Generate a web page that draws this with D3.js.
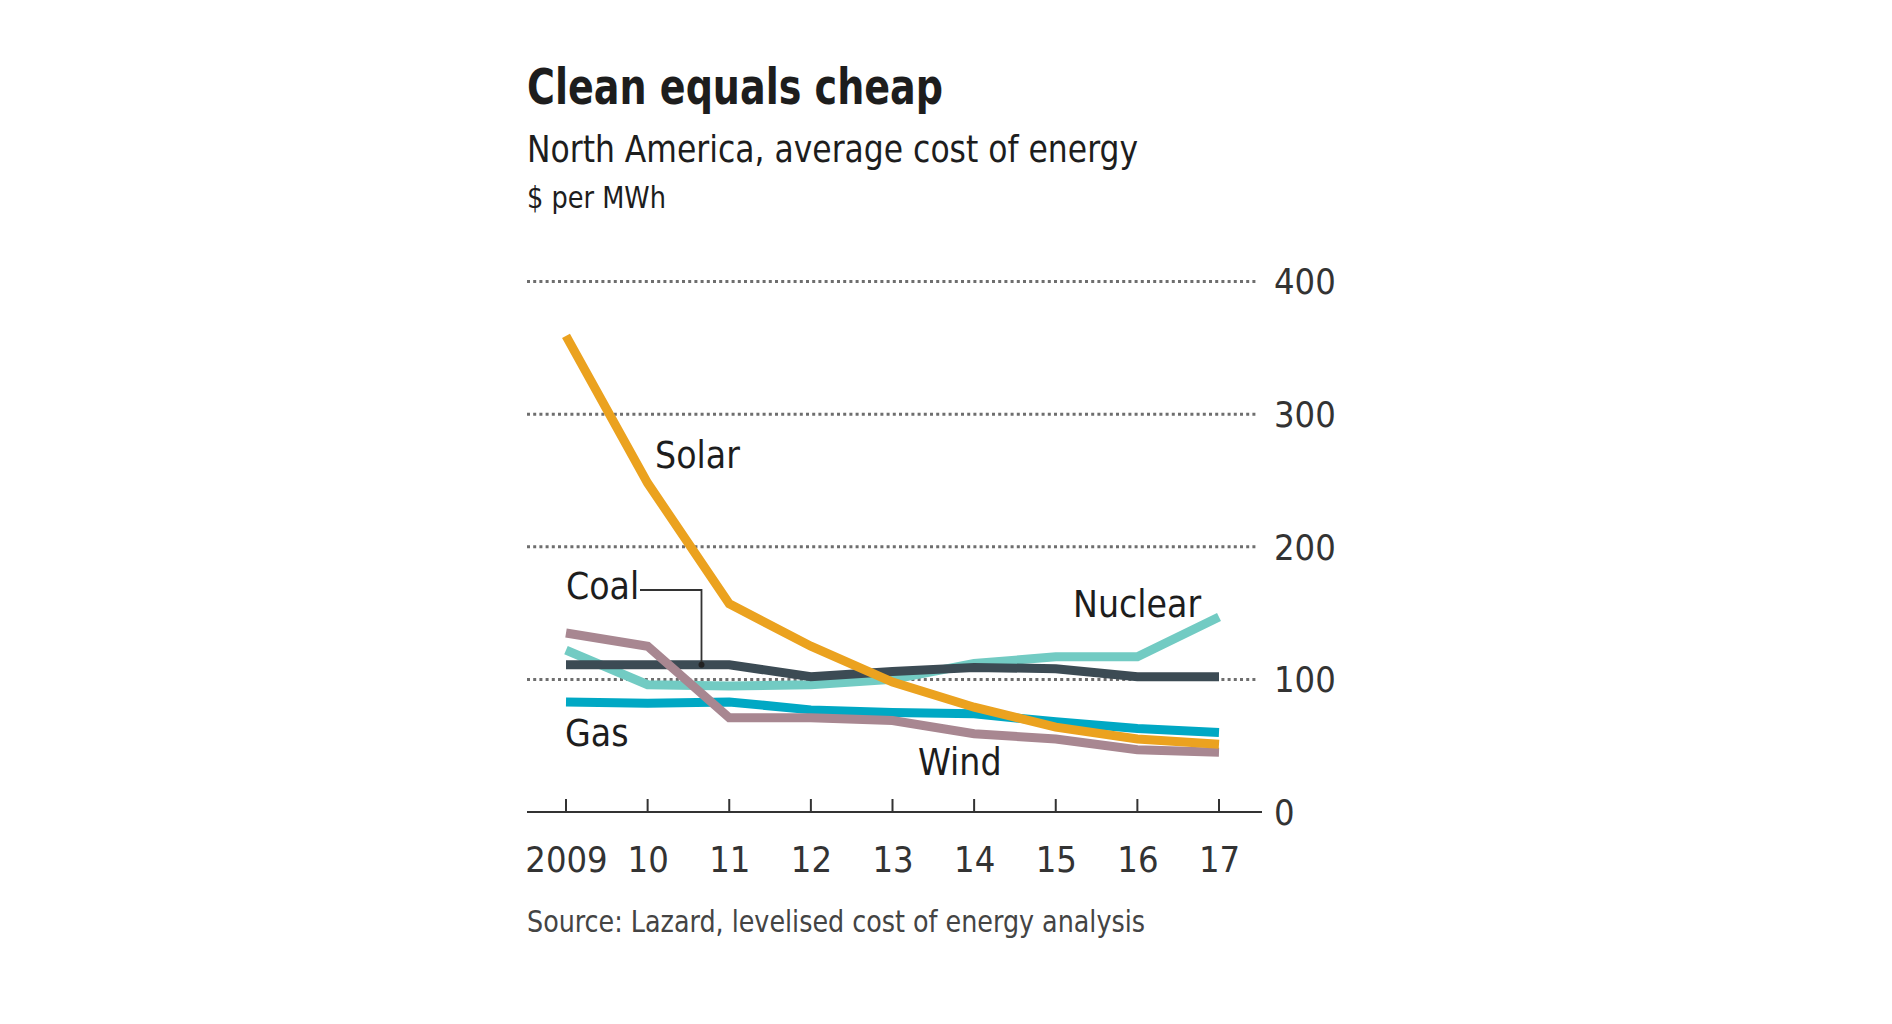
<!DOCTYPE html>
<html>
<head>
<meta charset="utf-8">
<script src="https://cdn.jsdelivr.net/npm/d3@7"></script>
<style>
  html, body { margin: 0; padding: 0; background: #fff; }
  svg text { font-family: "DejaVu Sans Condensed", "Liberation Sans Narrow", "Roboto", sans-serif; }
</style>
</head>
<body>
<svg id="chart" width="1892" height="1024"></svg>
<script>
// ---- data ----
const years = [2009, 2010, 2011, 2012, 2013, 2014, 2015, 2016, 2017];
const yearLabels = ["2009", "10", "11", "12", "13", "14", "15", "16", "17"];
const yTicks = [0, 100, 200, 300, 400];
const solar   = [359, 248, 157, 125, 98, 79, 64, 55, 51];
const coal    = [111, 111, 111, 102, 106, 109, 108, 102, 102];
const nuclear = [122, 96, 95, 96, 100, 112, 117, 117, 147];
const gas     = [83, 82, 83, 77, 75, 74, 68, 63, 60];
const wind    = [135, 125, 71, 71, 69, 59, 55, 47, 45];

const title = "Clean equals cheap";
const subtitle = "North America, average cost of energy";
const unit = "$ per MWh";
const source = "Source: Lazard, levelised cost of energy analysis";

// ---- layout ----
const svg = d3.select("#chart");
const x = d3.scaleLinear().domain([2009, 2017]).range([566, 1219]);
const y = d3.scaleLinear().domain([0, 400]).range([812, 281.5]);
const gridLeft = 527, gridRight = 1257, axisRight = 1262;

svg.append("text").attr("x", 527).attr("y", 104)
  .attr("font-size", 49).attr("font-weight", "bold").attr("fill", "#1d1d1d")
  .attr("textLength", 416).attr("lengthAdjust", "spacingAndGlyphs").text(title);
svg.append("text").attr("x", 527).attr("y", 162)
  .attr("font-size", 38).attr("fill", "#1d1d1d")
  .attr("textLength", 611).attr("lengthAdjust", "spacingAndGlyphs").text(subtitle);
svg.append("text").attr("x", 527).attr("y", 208)
  .attr("font-size", 30).attr("fill", "#1d1d1d")
  .attr("textLength", 139).attr("lengthAdjust", "spacingAndGlyphs").text(unit);

// gridlines
svg.append("g").selectAll("line").data(yTicks.filter(d => d > 0)).join("line")
  .attr("x1", gridLeft).attr("x2", gridRight)
  .attr("y1", d => y(d)).attr("y2", d => y(d))
  .attr("stroke", "#6e6e6e").attr("stroke-width", 3)
  .attr("stroke-dasharray", "3 3.2");

// y tick labels (right side)
svg.append("g").selectAll("text").data(yTicks).join("text")
  .attr("x", 1274).attr("y", d => y(d)).attr("dy", "0.36em")
  .attr("font-size", 36).attr("fill", "#333").text(d => d);

// x axis
const xAxis = d3.axisBottom(x).tickValues(years).tickSize(0).tickFormat((d, i) => yearLabels[i]);
const gx = svg.append("g").attr("transform", `translate(0,${y(0)})`).call(xAxis);
gx.select(".domain").remove();
gx.selectAll("text").attr("font-size", 36).attr("fill", "#333").attr("dy", null).attr("y", 60);
svg.append("line").attr("x1", gridLeft).attr("x2", axisRight)
  .attr("y1", y(0)).attr("y2", y(0)).attr("stroke", "#333").attr("stroke-width", 2.2);
svg.append("g").selectAll("line").data(years).join("line")
  .attr("x1", d => x(d)).attr("x2", d => x(d))
  .attr("y1", y(0)).attr("y2", y(0) - 13)
  .attr("stroke", "#333").attr("stroke-width", 2);

// lines
const line = d3.line().x((d, i) => x(years[i])).y(d => y(d));
const series = [
  { v: nuclear, c: "#72cbc3" },
  { v: gas,     c: "#00a8c4" },
  { v: coal,    c: "#3c4b54" },
  { v: wind,    c: "#a88791" },
  { v: solar,   c: "#eba21f" }
];
svg.append("g").selectAll("path").data(series).join("path")
  .attr("d", d => line(d.v)).attr("fill", "none")
  .attr("stroke", d => d.c).attr("stroke-width", 9)
  .attr("stroke-linejoin", "miter").attr("stroke-linecap", "butt");

// coal leader
const lx = x(2010.66);
svg.append("path")
  .attr("d", `M640,590 H${lx} V${y(coal[1])}`)
  .attr("fill", "none").attr("stroke", "#333").attr("stroke-width", 1.8);
svg.append("circle").attr("cx", lx).attr("cy", y(coal[1])).attr("r", 3).attr("fill", "#222");

// series labels
const labels = [
  { t: "Solar",   x: 655,  y: 468 },
  { t: "Coal",    x: 566,  y: 599 },
  { t: "Nuclear", x: 1073, y: 617 },
  { t: "Gas",     x: 565,  y: 746 },
  { t: "Wind",    x: 918,  y: 775 }
];
svg.append("g").selectAll("text").data(labels).join("text")
  .attr("x", d => d.x).attr("y", d => d.y)
  .attr("font-size", 37).attr("fill", "#1d1d1d").text(d => d.t);

// source
svg.append("text").attr("x", 527).attr("y", 932)
  .attr("font-size", 31).attr("fill", "#444")
  .attr("textLength", 618).attr("lengthAdjust", "spacingAndGlyphs").text(source);
</script>
</body>
</html>
